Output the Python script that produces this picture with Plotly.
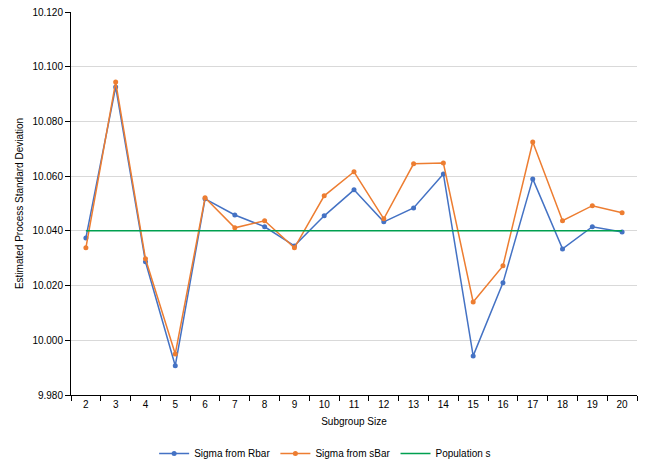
import plotly.graph_objects as go

subgroup_sizes = [str(n) for n in range(2, 21)]
sigma_rbar = [10.0374, 10.0926, 10.0287, 9.9907, 10.0517, 10.0458, 10.0415, 10.0345, 10.0455,
              10.0550, 10.0433, 10.0484, 10.0608, 9.9943, 10.0210, 10.0590, 10.0334, 10.0415, 10.0396]
sigma_sbar = [10.0338, 10.0944, 10.0298, 9.9950, 10.0521, 10.0411, 10.0437, 10.0338, 10.0528,
              10.0616, 10.0444, 10.0645, 10.0648, 10.0140, 10.0272, 10.0725, 10.0437, 10.0492, 10.0466]
population_s = [10.040] * len(subgroup_sizes)

font_family = "Liberation Sans, Arial, sans-serif"

fig = go.Figure()
fig.add_trace(go.Scatter(x=subgroup_sizes, y=sigma_rbar, mode="lines+markers",
                         name="Sigma from Rbar",
                         line=dict(color="#4472C4", width=1.5),
                         marker=dict(color="#4472C4", size=5)))
fig.add_trace(go.Scatter(x=subgroup_sizes, y=sigma_sbar, mode="lines+markers",
                         name="Sigma from sBar",
                         line=dict(color="#ED7D31", width=1.5),
                         marker=dict(color="#ED7D31", size=5)))
fig.add_trace(go.Scatter(x=subgroup_sizes, y=population_s, mode="lines",
                         name="Population s",
                         line=dict(color="#00A050", width=1.5)))

fig.update_layout(
    width=650, height=469,
    margin=dict(l=71, r=13, t=12, b=74, autoexpand=False),
    paper_bgcolor="white", plot_bgcolor="white",
    font=dict(family=font_family, size=10, color="#000000"),
    showlegend=True,
    legend=dict(orientation="h", x=0.449, xanchor="center", y=-0.115, yanchor="top",
                font=dict(size=10), itemwidth=30),
    xaxis=dict(
        type="category",
        range=[-0.5, len(subgroup_sizes) - 0.5],
        title=dict(text="Subgroup Size", font=dict(size=10), standoff=8),
        showline=True, linecolor="#000000", linewidth=1,
        ticks="outside", tickson="boundaries", ticklen=5, tickcolor="#000000",
        showgrid=False, zeroline=False,
    ),
    yaxis=dict(
        title=dict(text="Estimated Process Standard Deviation", font=dict(size=10), standoff=6),
        range=[9.98, 10.12], dtick=0.02, tick0=9.98, tickformat=".3f",
        showline=True, linecolor="#000000", linewidth=1,
        ticks="outside", ticklen=5, tickcolor="#000000",
        showgrid=True, gridcolor="#D9D9D9", gridwidth=1, zeroline=False,
    ),
)

fig.write_html("out.html")
